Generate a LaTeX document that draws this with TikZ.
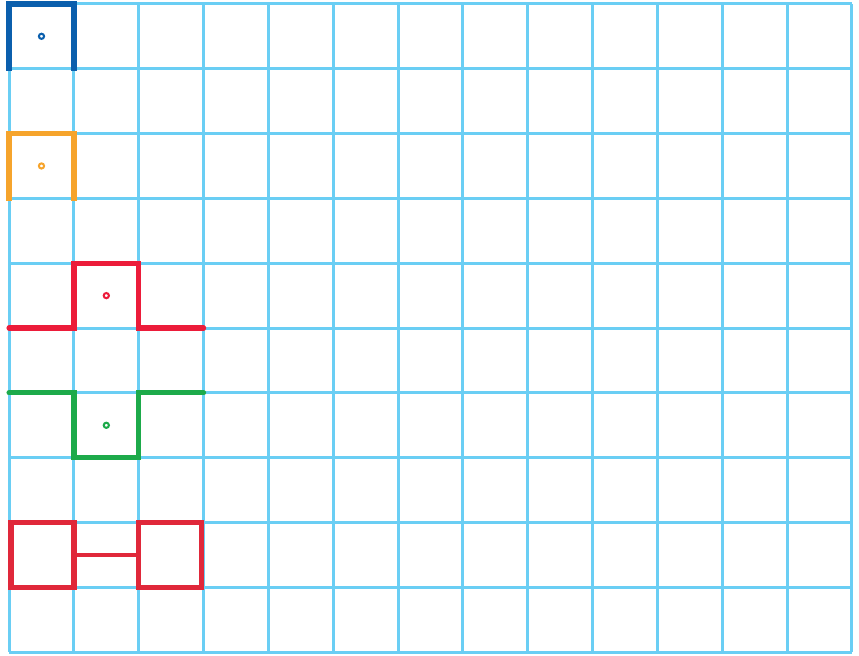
\documentclass[tikz,border=0pt]{standalone}
\usepackage{tikz}
\usetikzlibrary{positioning,calc}
\definecolor{gridblue}{RGB}{106,206,244}
\definecolor{darkblue}{RGB}{11,95,173}
\definecolor{pieceorange}{RGB}{246,164,44}
\definecolor{piecered}{RGB}{236,28,58}
\definecolor{boxred}{RGB}{224,40,58}
\definecolor{piecegreen}{RGB}{29,170,74}
\tikzset{
  gridline/.style={draw=gridblue, line width=1.3pt},
  piece/.style={line width=2.3pt, line join=miter},
  dot/.style={circle, draw, line width=0.9pt, inner sep=0pt, minimum size=0.8mm}
}
\begin{document}
\begin{tikzpicture}[x=1cm,y=-1cm]
  \useasboundingbox (-0.14,-0.06) rectangle (13.11,10.05);
  % grid
  \foreach \i in {0,...,13} {
    \draw[gridline] (\i,0) -- (\i,10);
  }
  \foreach \j in {0,...,10} {
    \draw[gridline] (0,\j) -- (13,\j);
  }

  \coordinate (c1) at (0.5,0.5);
  \coordinate (c2) at (0.5,2.5);
  \coordinate (c3) at (1.5,4.5);
  \coordinate (c4) at (1.5,6.5);

  \draw[piece, darkblue, line cap=rect]  (0,1) -- (0,0) -- (1,0) -- (1,1);
  \draw[piece, pieceorange, line cap=rect]  (0,3) -- (0,2) -- (1,2) -- (1,3);
  \draw[piece, piecered, line cap=round]  (0,5) -- (1,5) -- (1,4) -- (2,4) -- (2,5) -- (3,5);
  \draw[piece, piecegreen, line cap=round]  (0,6) -- (1,6) -- (1,7) -- (2,7) -- (2,6) -- (3,6);
  \draw[piece, boxred]  (0.03,8) rectangle (1,9);
  \draw[piece, boxred]  (2,8) rectangle (2.97,9);
  \draw[piece, boxred, line width=1.6pt]  (1,8.5) -- (2,8.5);

  \node[dot, draw=darkblue] (d1) at (c1) {};
  \node[dot, draw=pieceorange] (d2) at (c2) {};
  \node[dot, draw=piecered] (d3) at (c3) {};
  \node[dot, draw=piecegreen] (d4) at (c4) {};
\end{tikzpicture}
\end{document}
